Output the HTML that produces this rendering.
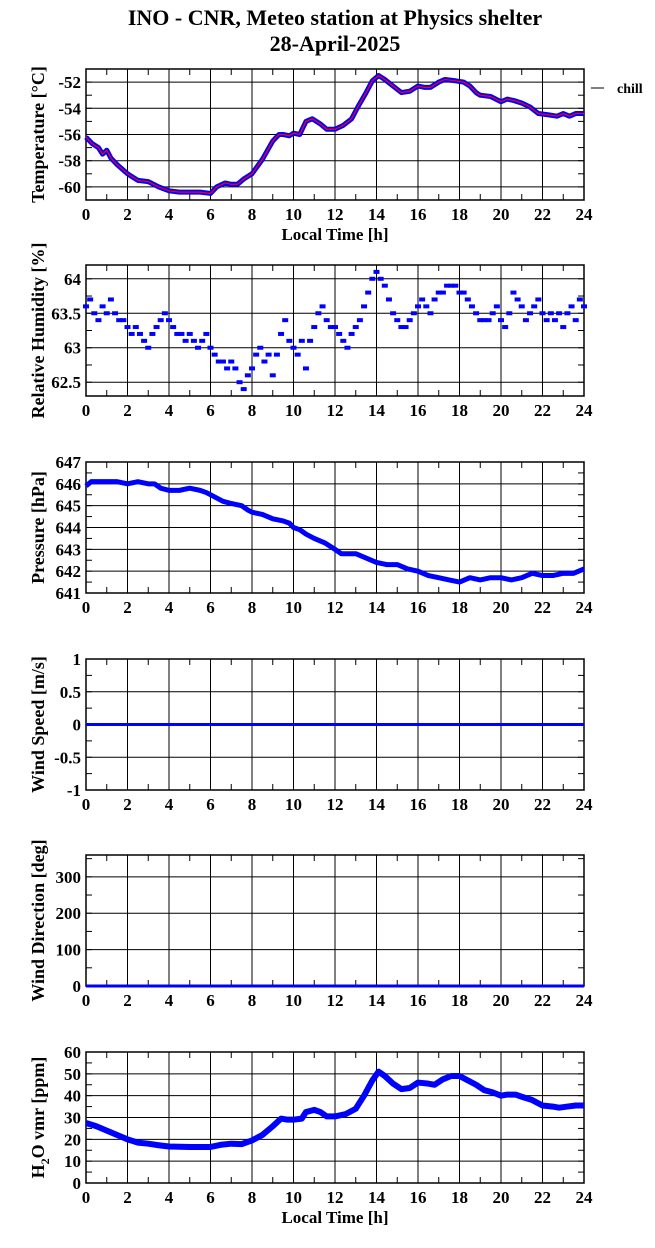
<!DOCTYPE html>
<html><head><meta charset="utf-8"><style>
html,body{margin:0;padding:0;background:#fff;}
svg{display:block;font-family:"Liberation Serif",serif;font-weight:bold;}
</style></head><body>
<svg id="chart" width="655" height="1248" viewBox="0 0 655 1248" xmlns="http://www.w3.org/2000/svg">
<text x="335" y="25" text-anchor="middle" font-size="22">INO - CNR, Meteo station at Physics shelter</text>
<text x="335" y="51" text-anchor="middle" font-size="22">28-April-2025</text>
<line x1="591" y1="88" x2="604" y2="88" stroke="#000" stroke-width="1"/>
<text x="617" y="93" font-size="14">chill</text>
</svg>
<script>
const hours = [0,2,4,6,8,10,12,14,16,18,20,22,24];
const tempT = [0,0.3,0.6,0.8,1.0,1.2,1.5,2,2.5,3,3.5,4,4.5,5,5.5,6,6.3,6.7,7,7.3,7.6,8,8.5,9,9.3,9.5,9.8,10,10.3,10.6,10.9,11.3,11.6,12,12.4,12.8,13.1,13.5,13.8,14.1,14.4,14.8,15.2,15.6,16,16.3,16.6,17,17.3,17.8,18.2,18.5,18.8,19,19.5,20,20.3,20.6,21,21.4,21.8,22.3,22.7,23,23.3,23.6,24];
const tempV = [-56.2,-56.7,-57.0,-57.5,-57.2,-57.8,-58.3,-59.0,-59.5,-59.6,-60.0,-60.3,-60.4,-60.4,-60.4,-60.5,-60.0,-59.7,-59.8,-59.8,-59.4,-59.0,-57.9,-56.5,-56.0,-56.0,-56.1,-55.9,-56.0,-55.0,-54.8,-55.2,-55.6,-55.6,-55.3,-54.8,-53.9,-52.8,-51.9,-51.5,-51.8,-52.3,-52.8,-52.7,-52.3,-52.4,-52.4,-52.0,-51.8,-51.9,-52.0,-52.3,-52.8,-53.0,-53.1,-53.5,-53.3,-53.4,-53.6,-53.9,-54.4,-54.5,-54.6,-54.4,-54.6,-54.4,-54.4];
const rhV = [63.6,63.7,63.5,63.4,63.6,63.5,63.7,63.5,63.4,63.4,63.3,63.2,63.3,63.2,63.1,63.0,63.2,63.3,63.4,63.5,63.4,63.3,63.2,63.2,63.1,63.2,63.1,63.0,63.1,63.2,63.0,62.9,62.8,62.8,62.7,62.8,62.7,62.5,62.4,62.6,62.7,62.9,63.0,62.8,62.9,62.6,62.9,63.2,63.4,63.1,63.0,62.9,63.1,62.7,63.1,63.3,63.5,63.6,63.4,63.3,63.3,63.2,63.1,63.0,63.2,63.3,63.4,63.6,63.8,64.0,64.1,64.0,63.9,63.7,63.5,63.4,63.3,63.3,63.4,63.5,63.6,63.7,63.6,63.5,63.7,63.8,63.8,63.9,63.9,63.9,63.8,63.8,63.7,63.6,63.5,63.4,63.4,63.4,63.5,63.6,63.4,63.3,63.5,63.8,63.7,63.6,63.4,63.5,63.6,63.7,63.5,63.4,63.5,63.4,63.5,63.3,63.5,63.6,63.4,63.7,63.6];
const presT = [0,0.25,0.5,1,1.5,2,2.5,3,3.3,3.6,4,4.5,5,5.5,5.8,6.2,6.6,7,7.5,7.8,8,8.5,9,9.5,9.8,10,10.3,10.6,11,11.5,12,12.3,12.6,13,13.5,14,14.5,15,15.5,16,16.5,17,17.5,18,18.5,19,19.5,20,20.5,21,21.5,22,22.5,23,23.5,24];
const presV = [645.9,646.1,646.1,646.1,646.1,646.0,646.1,646.0,646.0,645.8,645.7,645.7,645.8,645.7,645.6,645.4,645.2,645.1,645.0,644.8,644.7,644.6,644.4,644.3,644.2,644.0,643.9,643.7,643.5,643.3,643.0,642.8,642.8,642.8,642.6,642.4,642.3,642.3,642.1,642.0,641.8,641.7,641.6,641.5,641.7,641.6,641.7,641.7,641.6,641.7,641.9,641.8,641.8,641.9,641.9,642.1];
const windT = [0,24];
const windV = [0,0];
const dirV = [0,0];
const h2oT = [0,0.5,1,1.5,2,2.5,3,3.5,4,5,6,6.5,7,7.5,8,8.5,9,9.4,9.7,10,10.4,10.6,11,11.3,11.6,12,12.5,13,13.4,13.8,14.1,14.4,14.8,15.2,15.6,16,16.5,16.8,17.2,17.6,18,18.4,18.8,19.2,19.6,20,20.3,20.7,21,21.5,22,22.5,22.8,23.2,23.6,24];
const h2oV = [27.5,26,24,22,20,18.5,18,17.3,16.7,16.5,16.5,17.5,18,17.8,19.5,22,26,29.5,29,29,29.5,32.5,33.5,32.5,30.5,30.5,31.5,34,40,47,51,49,45.5,43,43.5,46,45.5,45,47.5,49,49,47,45,42.5,41.5,40,40.5,40.5,39.5,38,35.5,35,34.5,35,35.5,35.5];
const tempTicks = [-60,-58,-56,-54,-52];
const rhTicks = [62.5,63,63.5,64];
const presTicks = [641,642,643,644,645,646,647];
const windTicks = [-1,-0.5,0,0.5,1];
const dirTicks = [0,100,200,300];
const h2oTicks = [0,10,20,30,40,50,60];

const NS = "http://www.w3.org/2000/svg";
const svg = document.getElementById('chart');
const X0 = 86, X1 = 584;
function xs(h){ return X0 + (h/24)*(X1-X0); }
function mk(tag, attrs, parent){
  const e = document.createElementNS(NS, tag);
  for (const k in attrs) e.setAttribute(k, attrs[k]);
  (parent||svg).appendChild(e);
  return e;
}
function panel(name, top, bot, ymin, ymax, ticks, minorStep, title, xTitle){
  const g = mk('g', {});
  
  
  const ys = v => bot - (v - ymin)/(ymax - ymin)*(bot - top);
  hours.forEach(h => {
    const l = mk('line', {x1:xs(h), x2:xs(h), y1:top, y2:bot, stroke:'#000', 'stroke-width':1}, g);
    
    
    const t = mk('text', {x:xs(h), y:bot+20, 'text-anchor':'middle', 'font-size':17}, g);
    
    
    t.textContent = h;
  });
  for (let h=1; h<24; h+=2){
    mk('line', {x1:xs(h), x2:xs(h), y1:top, y2:top+6, stroke:'#000'}, g);
    mk('line', {x1:xs(h), x2:xs(h), y1:bot, y2:bot-6, stroke:'#000'}, g);
  }
  ticks.forEach(v => {
    const l = mk('line', {x1:X0, x2:X1, y1:ys(v), y2:ys(v), stroke:'#000', 'stroke-width':1}, g);
    
    
    const t = mk('text', {x:X0-5, y:ys(v)+6, 'text-anchor':'end', 'font-size':17}, g);
    
    
    t.textContent = v;
  });
  for (let v = Math.ceil(ymin/minorStep)*minorStep; v <= ymax+1e-9; v += minorStep){
    mk('line', {x1:X0, x2:X0+6, y1:ys(v), y2:ys(v), stroke:'#000'}, g);
    mk('line', {x1:X1, x2:X1-6, y1:ys(v), y2:ys(v), stroke:'#000'}, g);
  }
  const fr = mk('rect', {x:X0, y:top, width:X1-X0, height:bot-top, fill:'none', stroke:'#000', 'stroke-width':1.5}, g);
  
  
  const cy = (top+bot)/2;
  const tt = mk('text', {x:0, y:0, 'text-anchor':'middle', 'font-size':18, transform:'translate(44,'+cy+') rotate(-90)'}, g);
  
  
  if (title === 'H2O') {
    tt.innerHTML = 'H<tspan dy="5" font-size="12">2</tspan><tspan dy="-5">O vmr [ppm]</tspan>';
  } else tt.textContent = title;
  if (xTitle){
    const xt = mk('text', {x:335, y:bot+40, 'text-anchor':'middle', 'font-size':17}, g);
    
    
    xt.textContent = 'Local Time [h]';
  }
  return {g, ys};
}
function pathD(T, V, ys){
  let d = '';
  for (let i=0;i<T.length;i++){
    d += (i===0?'M':'L')+xs(T[i])+','+ys(V[i]);
  }
  return d;
}
let p = panel('temperature', 69, 200, -61, -51, tempTicks, 1, 'Temperature [°C]', true);
let e = mk('path', {d:pathD(tempT,tempV,p.ys), fill:'none', stroke:'#0000ff', 'stroke-width':5, 'stroke-linejoin':'round'}, p.g);


e = mk('path', {d:pathD(tempT,tempV,p.ys), fill:'none', stroke:'#ff0000', 'stroke-width':1.2}, p.g);


p = panel('humidity', 265, 396, 62.3, 64.2, rhTicks, 0.25, 'Relative Humidity [%]', false);
rhV.forEach((v,i) => {
  const t = i*24/(rhV.length-1);
  const r = mk('rect', {x:xs(t)-3, y:p.ys(v)-2, width:6, height:4, fill:'#0000ff'}, p.g);
  
  
});
p = panel('pressure', 462, 593, 641, 647, presTicks, 0.5, 'Pressure [hPa]', false);
e = mk('path', {d:pathD(presT,presV,p.ys), fill:'none', stroke:'#0000ff', 'stroke-width':5, 'stroke-linejoin':'round'}, p.g);


p = panel('wind-speed', 659, 790, -1, 1, windTicks, 0.25, 'Wind Speed [m/s]', false);
e = mk('path', {d:pathD(windT,windV,p.ys), fill:'none', stroke:'#0000ff', 'stroke-width':3}, p.g);


p = panel('wind-direction', 855, 986, 0, 360, dirTicks, 50, 'Wind Direction [deg]', false);
e = mk('path', {d:pathD(windT,dirV,p.ys), fill:'none', stroke:'#0000ff', 'stroke-width':3}, p.g);


p = panel('h2o', 1052, 1183, 0, 60, h2oTicks, 5, 'H2O', true);
e = mk('path', {d:pathD(h2oT,h2oV,p.ys), fill:'none', stroke:'#0000ff', 'stroke-width':6, 'stroke-linejoin':'round'}, p.g);


</script>
</body></html>
